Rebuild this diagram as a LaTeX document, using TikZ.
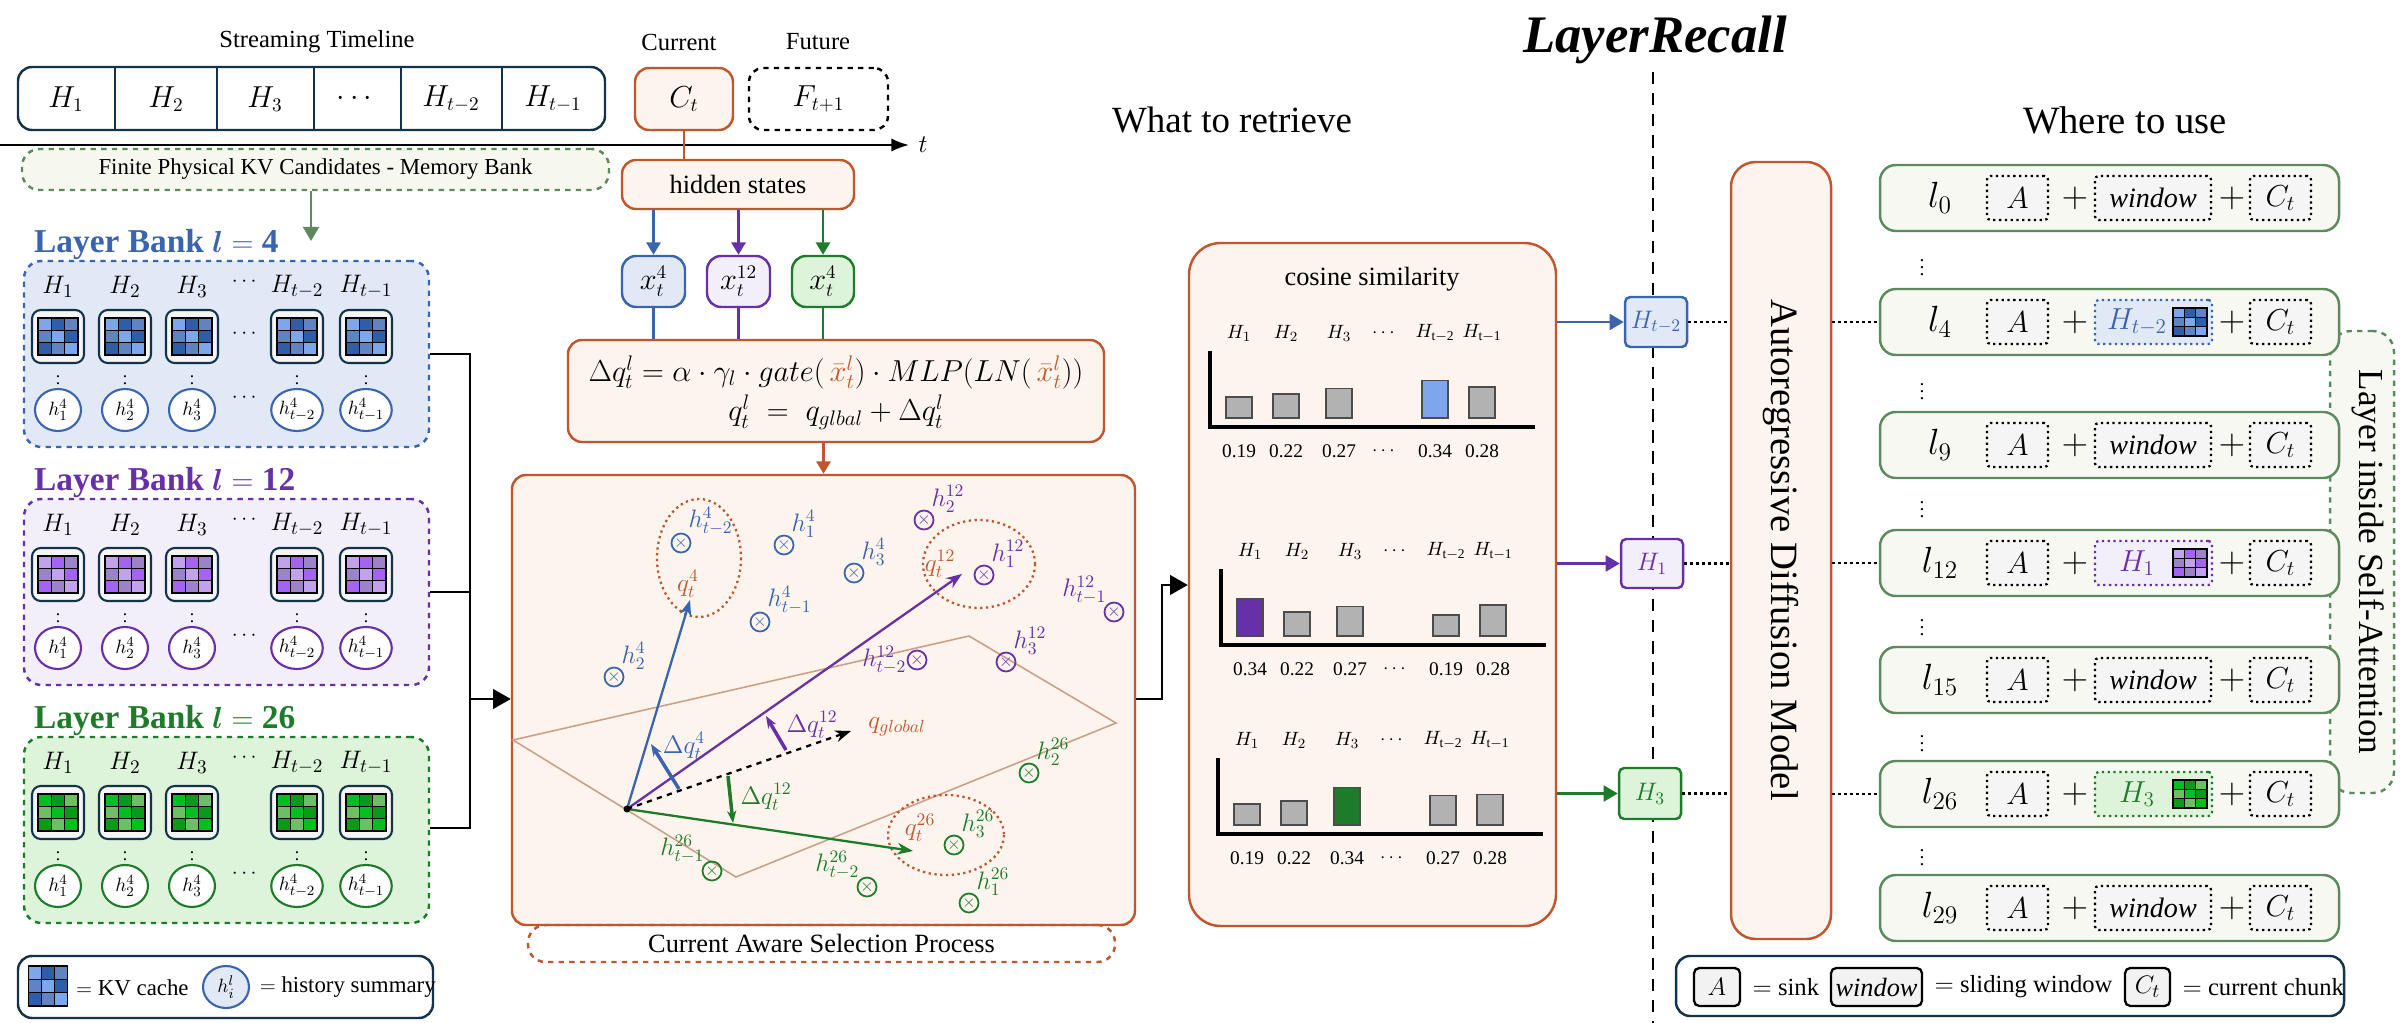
\documentclass[tikz,border=0pt]{standalone}
\usepackage{amsmath}
\usepackage{amssymb}
\usepackage{fontspec}
\setmainfont{Liberation Serif}
\usepackage{tikz}
\usetikzlibrary{calc,positioning,fit,arrows.meta,shapes.geometric}

\definecolor{cblue}{HTML}{3A64AE}
\definecolor{cpurple}{HTML}{6630A8}
\definecolor{cgreen}{HTML}{1E7B2A}
\definecolor{corange}{HTML}{C0562E}
\definecolor{cpeach}{HTML}{FDF4EE}
\definecolor{cdark}{HTML}{13334A}
\definecolor{crow}{HTML}{F6F8F1}
\definecolor{crowb}{HTML}{5C8A5C}
\definecolor{fblue}{HTML}{E1E9F7}
\definecolor{fpurple}{HTML}{F3EFFA}
\definecolor{fgreen}{HTML}{DDF3DA}
\definecolor{fmem}{HTML}{F6F8EE}
\definecolor{cplane}{HTML}{C9A08A}
\definecolor{gb1}{HTML}{7EA6EC}
\definecolor{gb2}{HTML}{2F5DA8}
\definecolor{gb3}{HTML}{6283C2}
\definecolor{gp1}{HTML}{C3A2EC}
\definecolor{gp2}{HTML}{A563F2}
\definecolor{gp3}{HTML}{9C82C6}
\definecolor{gg1}{HTML}{00C020}
\definecolor{gg2}{HTML}{0A9A1A}
\definecolor{gg3}{HTML}{6CBF62}

\newcommand\fsz[1]{\fontsize{#1}{#1}\selectfont}
% 3x3 KV cache icon: centre x, centre y, width, height, three colours
\newcommand\kvgrid[7]{%
  \foreach \gi in {0,1,2}{\foreach \gj in {0,1,2}{%
    \pgfmathtruncatemacro\gk{mod(\gi+2*\gj,3)}%
    \ifcase\gk\def\gcol{#5}\or\def\gcol{#6}\else\def\gcol{#7}\fi
    \filldraw[fill=\gcol,draw=black,line width=0.8pt] ({#1-#3/2+\gi*#3/3},{#2-#4/2+\gj*#4/3}) rectangle +({#3/3},{#4/3});
  }}}
% similarity chart: corner x, corner y, colour, highlighted bar, five values
\newcommand\simchart[9]{%
  \draw[line width=2pt] (#1,#2-76) -- (#1,#2) -- (#1+325,#2);
  \foreach \dx/\lab/\v [count=\i] in {29/H_1/#5,76/H_2/#6,129/H_3/#7,225/H_{\mathrm{t-2}}/#8,272/H_{\mathrm{t-1}}/#9}{
    \ifnum\i=#4 \def\bc{#3}\else\def\bc{gray!60}\fi
    \filldraw[fill=\bc,draw=black!70,line width=0.8pt] (#1+\dx-13,#2-9) rectangle (#1+\dx+13,#2-9-\v*110);
    \node[font=\fsz{11}] at (#1+\dx,#2-94) {$\lab$};
    \node[font=\fsz{11}] at (#1+\dx,#2+24) {\v};
  }
  \node[font=\fsz{11}] at (#1+175,#2-94) {$\cdots$};
  \node[font=\fsz{11}] at (#1+175,#2+24) {$\cdots$};
}

\tikzset{
  box/.style={draw, line width=1.4pt, rounded corners=8pt, inner sep=0pt},
  bank/.style={draw, dashed, line width=1.4pt, rounded corners=10pt, inner sep=0pt},
  kvbox/.style={draw=cdark, fill=white!60!gray!20, line width=1.2pt, rounded corners=5pt, inner sep=0pt},
  hsum/.style={ellipse, draw, line width=1.2pt, fill=white!30, minimum width=0.92cm, minimum height=0.84cm, inner sep=0pt, font=\fsz{11}},
  hx/.style={circle, draw, line width=1pt, inner sep=0pt, minimum size=0.38cm, font=\fsz{10}},
  hl/.style={font=\fsz{14}},
  rowbox/.style={draw=crowb, fill=crow, line width=1.4pt, rounded corners=9pt, inner sep=0pt},
  slot/.style={draw, dotted, line width=1.3pt, fill=gray!8, rounded corners=2pt, inner sep=0pt},
  sel/.style={dotted, line width=1.3pt, rounded corners=2pt, inner sep=0pt},
  legslot/.style={draw=black, fill=gray!10, line width=1.3pt, rounded corners=3pt, inner sep=0pt},
}

\begin{document}
\begin{tikzpicture}[x=0.02cm, y=-0.02cm]
\useasboundingbox (0,0) rectangle (2400,1023);

% Streaming timeline
\node[font=\fsz{14}] (sttitle) at (317,42) {Streaming Timeline};
\node[box, draw=cdark, fit={(18,67) (605,130)}] (timeline) {};
\foreach \xx in {115,217,314,401,502}
  \draw[cdark, line width=1.4pt] (\xx,67) -- (\xx,130);
\foreach \xx/\hl in {66/H_1,166/H_2,265/H_3,357/\cdots,451/H_{t-2},553/H_{t-1}}
  \node[font=\fsz{16}] at (\xx,99) {$\hl$};
\node[font=\fsz{14}] at (679,42) {Current};
\node[box, draw=corange, fill=cpeach, fit={(635,68) (733,130)}, label={[font=\fsz{16}]center:$C_t$}] (ct) {};
\node[font=\fsz{14}] at (818,42) {Future};
\node[box, dashed, draw=black, fit={(749,68) (888,130)}, label={[font=\fsz{16}]center:$F_{t+1}$}] (ft) {};
\draw[line width=1.2pt, -{Latex[length=10pt]}] (0,145) -- (909,145) coordinate (tend);
\node[font=\fsz{15}, right=2pt of tend] {$t$};

% Memory bank
\node[bank, draw=crowb, fill=fmem, fit={(22,149) (609,190)}, label={[font=\fsz{13}]center:Finite Physical KV Candidates - Memory Bank}] (mem) {};
\coordinate (membot) at (311,241);
\draw[crowb, line width=1.4pt, -{Triangle[length=8pt,width=9pt]}] (mem.south -| membot) -- (membot);

% Layer banks
\foreach \off/\lv/\cc/\cf/\ga/\gb/\gc in {0/4/cblue/fblue/gb1/gb2/gb3, 238/12/cpurple/fpurple/gp1/gp2/gp3, 476/26/cgreen/fgreen/gg1/gg2/gg3}{
  \node[anchor=west, text=\cc, font=\fsz{19}\bfseries] at (28,245+\off) {Layer Bank $\boldsymbol{l}=\mathbf{\lv}$};
  \node[bank, draw=\cc, fill=\cf, fit={(24,261+\off) (429,447+\off)}] (bank\lv) {};
  \foreach \hx/\hl in {58/1,125/2,192/3,297/{t-2},366/{t-1}}{
    \node[font=\fsz{15}] at (\hx,287+\off) {$H_{\hl}$};
    \node[kvbox, fit={(\hx-26,310+\off) (\hx+26,363+\off)}] {};
    \kvgrid{\hx}{336.5+\off}{40}{37}{\ga}{\gb}{\gc}
    \node[font=\fsz{10}] at (\hx,378+\off) {$\vdots$};
    \node[hsum, draw=\cc] at (\hx,410+\off) {$h^4_{\hl}$};
  }
  \node[font=\fsz{12}] at (246,282+\off) {$\cdots$};
  \node[font=\fsz{12}] at (246,398+\off) {$\cdots$};
}
\node[font=\fsz{12}] at (246,334) {$\cdots$};

% Left legend
\node[box, draw=cdark, fit={(18,956) (433,1018)}] (legl) {};
\kvgrid{48}{986}{39}{40}{gb1}{gb2}{gb3}
\node[font=\fsz{13}, anchor=west] at (70,988) {$=$ KV cache};
\node[hsum, draw=cblue, fill=fblue] (leghs) at (226,987) {$h_i^l$};
\node[font=\fsz{13}, right=2pt of leghs] {$=$ history summary};

% hidden states and per-layer inputs
\node[box, draw=corange, fill=cpeach, fit={(622,160) (854,209)}, label={[font=\fsz{15}]center:hidden states}] (hid) {};
\draw[corange, line width=1.4pt] (ct.south) -- (ct.south |- hid.north);
\node[box, draw=cblue, fill=fblue, fit={(622,256) (685,307)}, label={[font=\fsz{16}]center:$x_t^4$}] (xa) {};
\node[box, draw=cpurple, fill=fpurple, fit={(707,256) (770,307)}, label={[font=\fsz{16}]center:$x_t^{12}$}] (xb) {};
\node[box, draw=cgreen, fill=fgreen, fit={(792,256) (854,307)}, label={[font=\fsz{16}]center:$x_t^4$}] (xc) {};
\node[box, draw=corange, fill=cpeach, fit={(568,340) (1104,442)}] (form) {};
\node[font=\fsz{17}] at (836,372) {$\Delta q_t^l = \alpha\cdot\gamma_l\cdot gate(\,{\color{corange}\bar{x}_t^l})\cdot MLP(LN(\,{\color{corange}\bar{x}_t^l}))$};
\node[font=\fsz{17}] at (836,412) {$q_t^l \;=\; q_{glbal} + \Delta q_t^l$};
\foreach \xn/\cc in {xa/cblue,xb/cpurple,xc/cgreen}{
  \draw[\cc, line width=1.4pt, -{Triangle[length=7pt,width=8pt]}] (hid.south -| \xn) -- (\xn.north);
  \draw[\cc, line width=1.4pt] (\xn.south) -- (\xn.south |- form.north);
}

% Selection process
\node[box, draw=corange, fill=cpeach, fit={(512,475) (1135,925)}] (sp) {};
\draw[corange, line width=1.4pt, -{Triangle[length=7pt,width=8pt]}] (form.south -| sp) -- (sp.north);
\node[bank, draw=corange, fit={(528,925) (1115,962)}, label={[font=\fsz{15}]center:Current Aware Selection Process}] (spcap) {};
\draw[cplane, line width=0.9pt] (513,740) -- (969,636) -- (1116,723) -- (736,877) -- cycle;
\coordinate (O) at (627,809);
\draw[corange, dotted, line width=1.3pt] (699,558) ellipse [x radius=42, y radius=59];
\draw[corange, dotted, line width=1.3pt] (979,564) ellipse [x radius=56, y radius=44];
\draw[corange, dotted, line width=1.3pt] (946,835) ellipse [x radius=58, y radius=40];
\draw[cblue, line width=1.3pt, -{Stealth[length=9pt]}] (O) -- (690,600);
\draw[cpurple, line width=1.3pt, -{Stealth[length=9pt]}] (O) -- (962,574);
\draw[cgreen, line width=1.3pt, -{Stealth[length=9pt]}] (O) -- (913,851);
\draw[black, dashed, line width=1.3pt, -{Stealth[length=9pt]}] (O) -- (851,731);
\fill (O) circle (3.5);
\node[text=corange, font=\fsz{14}] at (897,727) {$q_{global}$};
\node[text=corange, font=\fsz{14}] at (688,584) {$q_t^4$};
\node[text=corange, font=\fsz{14}] at (940,564) {$q_t^{12}$};
\node[text=corange, font=\fsz{14}] at (920,828) {$q_t^{26}$};
\draw[cblue, line width=2pt, -{Stealth[length=7pt]}] (679,789) -- (651,744);
\node[text=cblue, font=\fsz{14}] at (684,746) {$\Delta q_t^4$};
\draw[cpurple, line width=2pt, -{Stealth[length=7pt]}] (786,750) -- (766,716);
\node[text=cpurple, font=\fsz{14}] at (812,725) {$\Delta q_t^{12}$};
\draw[cgreen, line width=2pt, -{Stealth[length=7pt]}] (728,776) -- (733,823);
\node[text=cgreen, font=\fsz{14}] at (766,797) {$\Delta q_t^{12}$};
% history summaries
\foreach \px/\py/\pos/\lab in {681/543/above right/h^4_{t-2}, 784/545/above right/h^4_1, 854/573/above right/h^4_3, 760/622/above right/h^4_{t-1}, 614/677/above right/h^4_2}
  \node[hx, draw=cblue, text=cblue, label={[hl, text=cblue, inner sep=0pt]\pos:$\lab$}] at (\px,\py) {$\times$};
\foreach \px/\py/\pos/\lab in {924/520/above right/h^{12}_2, 984/575/above right/h^{12}_1, 1114/612/above left/h^{12}_{t-1}, 1006/662/above right/h^{12}_3, 917/660/left/h^{12}_{t-2}}
  \node[hx, draw=cpurple, text=cpurple, label={[hl, text=cpurple, inner sep=0pt]\pos:$\lab$}] at (\px,\py) {$\times$};
\foreach \px/\py/\pos/\lab in {1029/773/above right/h^{26}_2, 954/845/above right/h^{26}_3, 969/903/above right/h^{26}_1, 867/887/above left/h^{26}_{t-2}, 712/871/above left/h^{26}_{t-1}}
  \node[hx, draw=cgreen, text=cgreen, label={[hl, text=cgreen, inner sep=0pt]\pos:$\lab$}] at (\px,\py) {$\times$};

% banks into selection process
\coordinate (jtop) at (470,354);
\coordinate (jbot) at (470,828);
\draw[line width=1.6pt] (bank4.east |- jtop) -- (jtop) -- (jbot) -- (bank26.east |- jbot);
\draw[line width=1.6pt] (bank12.east |- 470,592) -- (470,592);
\draw[line width=1.6pt, -{Triangle[length=10pt,width=11pt]}] (470,699) -- (sp.west |- 470,699);

% What to retrieve
\node[font=\fsz{21}] at (1232,120) {What to retrieve};
\node[font=\fsz{30}\bfseries\itshape] at (1655,40) {LayerRecall};
\draw[dashed, line width=1.5pt, dash pattern=on 7pt off 5pt] (1653,72) -- (1653,1023);
\node[box, draw=corange, fill=cpeach, rounded corners=18pt, fit={(1189,243) (1556,926)}] (cos) {};
\node[font=\fsz{15}] at (1372,279) {cosine similarity};
\draw[line width=1.6pt, -{Triangle[length=10pt,width=11pt]}] (sp.east |- 1135,699) -- (1162,699) -- (1162,585) -- (cos.west |- 1162,585);
\simchart{1210}{427}{gb1}{4}{0.19}{0.22}{0.27}{0.34}{0.28}
\simchart{1221}{645}{cpurple}{1}{0.34}{0.22}{0.27}{0.19}{0.28}
\simchart{1218}{834}{cgreen}{3}{0.19}{0.22}{0.34}{0.27}{0.28}

% selected histories
\node[box, rounded corners=3pt, draw=cblue, fill=fblue, fit={(1625,297) (1687,347)}, label={[font=\fsz{14}, text=cblue]center:$H_{t-2}$}] (sela) {};
\node[box, rounded corners=3pt, draw=cpurple, fill=fpurple, fit={(1621,539) (1683,588)}, label={[font=\fsz{14}, text=cpurple]center:$H_1$}] (selb) {};
\node[box, rounded corners=3pt, draw=cgreen, fill=fgreen, fit={(1619,768) (1681,819)}, label={[font=\fsz{14}, text=cgreen]center:$H_3$}] (selc) {};
\draw[cblue, line width=1.4pt, -{Triangle[length=8pt,width=9pt]}] (cos.east |- sela) -- (sela.west);
\draw[cpurple, line width=1.4pt, -{Triangle[length=8pt,width=9pt]}] (cos.east |- selb) -- (selb.west);
\draw[cgreen, line width=1.4pt, -{Triangle[length=8pt,width=9pt]}] (cos.east |- selc) -- (selc.west);

% Autoregressive model
\node[box, draw=corange, fill=cpeach, rounded corners=14pt, fit={(1731,162) (1831,939)}] (ardm) {};
\node[font=\fsz{22}, rotate=-90] at (1781,550) {Autoregressive Diffusion Model};

% Where to use
\node[font=\fsz{22}] at (2125,120) {Where to use};
\node[bank, draw=crowb, fill=crow, rounded corners=12pt, fit={(2330,331) (2394,793)}] (attn) {};
\node[font=\fsz{20}, rotate=-90] at (2368,562) {Layer inside Self-Attention};
\foreach \nm/\yy in {0/198,4/322,9/445,12/563,15/680,26/794,29/908}{
  \node[rowbox, fit={(1880,\yy-33) (2339,\yy+33)}] (row\nm) {};
  \node[font=\fsz{20}] at (1940,\yy) {$l_{\nm}$};
  \node[slot, fit={(1987,\yy-22) (2048,\yy+22)}, label={[font=\fsz{18}]center:$A$}] {};
  \node[font=\fsz{20}] at (2075,\yy) {$+$};
  \node[font=\fsz{20}] at (2232,\yy) {$+$};
  \node[slot, fit={(2250,\yy-22) (2311,\yy+22)}, label={[font=\fsz{18}]center:$C_t$}] {};
}
\foreach \yy in {198,445,680,908}
  \node[slot, fit={(2095,\yy-22) (2211,\yy+22)}, label={[font=\fsz{16}]center:$\mathit{window}$}] {};
\foreach \nm/\yy/\cc/\cf/\lab/\ga/\gb/\gc in {4/322/cblue/fblue/H_{t-2}/gb1/gb2/gb3, 12/563/cpurple/fpurple/H_1/gp1/gp2/gp3, 26/794/cgreen/fgreen/H_3/gg1/gg2/gg3}{
  \node[sel, draw=\cc, fill=\cf, fit={(2095,\yy-22) (2212,\yy+22)}] (use\nm) {};
  \node[font=\fsz{18}, text=\cc] at (2137,\yy) {$\lab$};
  \kvgrid{2190}{\yy}{34}{28}{\ga}{\gb}{\gc}
  \draw[dotted, line width=1.4pt] (ardm.east |- row\nm.west) -- (row\nm.west);
}
\foreach \sn/\nm in {sela/4,selb/12,selc/26}
  \draw[dotted, line width=1.4pt] (\sn.east) -- (\sn.east -| ardm.west);
\foreach \yy in {262,386,504,622,738,852}
  \node[font=\fsz{11}] at (1922,\yy) {$\vdots$};

% Right legend
\node[box, draw=cdark, fit={(1676,956) (2344,1016)}] (legr) {};
\node[legslot, fit={(1694,968) (1740,1006)}, label={[font=\fsz{15}]center:$A$}] (lega) {};
\node[font=\fsz{14}, right=3pt of lega] {$=$ sink};
\node[legslot, fit={(1831,968) (1922,1006)}, label={[font=\fsz{15}]center:$\mathit{window}$}] (legw) {};
\node[font=\fsz{14}, right=3pt of legw] {$=$ sliding window};
\node[legslot, fit={(2125,968) (2170,1006)}, label={[font=\fsz{15}]center:$C_t$}] (legc) {};
\node[font=\fsz{14}, right=3pt of legc] {$=$ current chunk};
\end{tikzpicture}
\end{document}
